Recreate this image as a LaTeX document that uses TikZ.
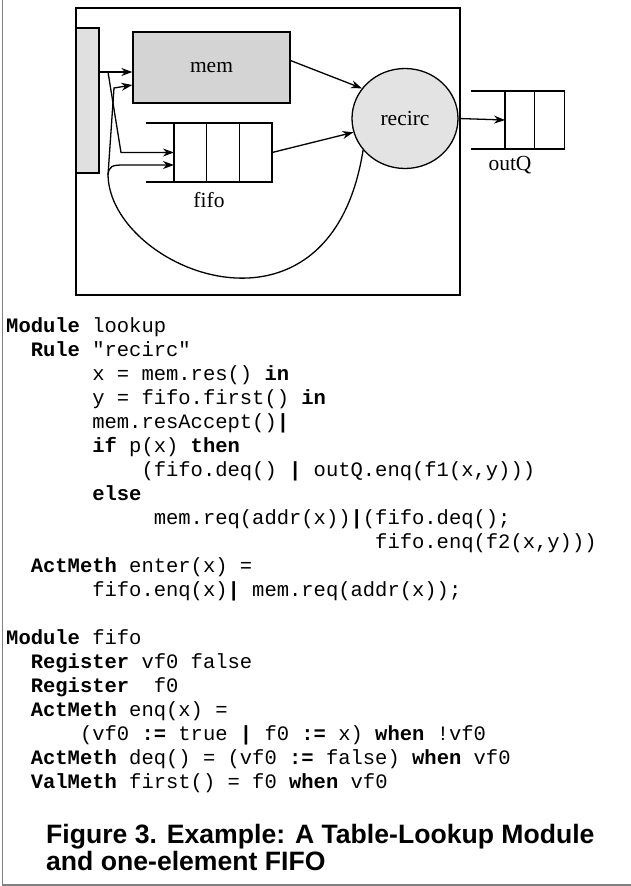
\documentclass[tikz,border=0pt]{standalone}
\usepackage{fontspec}
\setmainfont{Liberation Serif}
\newfontfamily\codefont{Liberation Mono}
\newfontfamily\capfont{Liberation Sans}
\usepackage{tikz}
\usetikzlibrary{shapes.geometric,positioning,arrows.meta}

\newcommand{\kw}[1]{\textbf{#1}}

\begin{document}
\begin{tikzpicture}[x=1pt, y=-1pt,
    arr/.style={-{Stealth[length=11pt,width=8pt]}, line width=1.3pt},
    cell/.style={draw, line width=1.3pt, inner sep=0, outer sep=0, minimum width=32.7pt, minimum height=59pt},
    qcell/.style={cell, minimum width=29.7pt, minimum height=58pt},
    lbl/.style={font=\fontsize{21.5}{24}\selectfont},
    codeline/.style={anchor=base west, inner sep=0, font=\codefont\fontsize{20.5}{24}\selectfont\frenchspacing},
    captext/.style={anchor=base west, inner sep=0, font=\capfont\bfseries\fontsize{26.6}{27}\selectfont}]
    \useasboundingbox (0,0) rectangle (631,886);

    % page border (left and bottom only)
    \draw[gray, line width=1.5pt] (2.5,0) -- (2.5,885) -- (631,885);

    % module box
    \node[draw, line width=2pt, inner sep=0, minimum width=384pt, minimum height=287pt] (box) at (268,151.5) {};
    \node[draw, line width=1.6pt, fill=black!12, inner sep=0, minimum width=23pt, minimum height=145pt] (port) at (87.5,100.5) {};
    \node[draw, line width=1.3pt, fill=black!17, inner sep=0, minimum width=157pt, minimum height=71pt, lbl] (mem) at (211.5,67.5) {mem};
    \node[ellipse, draw, line width=1.3pt, fill=black!11, inner sep=0, minimum width=106pt, minimum height=100pt, lbl] (recirc) at (405,118.5) {recirc};

    % fifo: three slots, open on the left
    \node[cell] (f1) at (190.3,152.5) {};
    \node[cell, right=0pt of f1] (f2) {};
    \node[cell, right=0pt of f2] (f3) {};
    \draw[line width=1.3pt] (f1.north west) -- ++(-28,0);
    \draw[line width=1.3pt] (f1.south west) -- ++(-28,0);
    \node[lbl] (fifolbl) at (209,200) {fifo};

    % outQ: two slots
    \node[qcell] (o1) at (519.9,120) {};
    \node[qcell, right=0pt of o1] (o2) {};
    \draw[line width=1.3pt] (o1.north west) -- ++(-34,0);
    \draw[line width=1.3pt] (o1.south west) -- ++(-34,0);
    \node[lbl] (outqlbl) at (510,165) {outQ};

    % enter(x): to mem and to fifo
    \coordinate (tap) at (108,72);
    \coordinate (drop) at (121,152.5);
    \draw[arr] (port.east |- tap) -- (mem.west |- tap);
    \draw[arr] (tap) -- (drop) -- (f1.west);

    % into and out of recirc
    \draw[arr] (mem.5) -- (recirc.145);
    \draw[arr] (f3.east) -- (recirc.195);
    \draw[arr] (recirc.east) -- (o1.west);

    % recirculation loop back to mem and fifo
    \coordinate (back) at (108,175);
    \coordinate (up) at (114,88);
    \coordinate (memin) at (0,85);
    \coordinate (bend) at (124,165);
    \draw[line width=1.3pt] (recirc.217) .. controls (330,360) and (110,270) .. (back);
    \draw[arr] (back) -- (up) -- (mem.west |- memin);
    \draw[arr] (back) .. controls (109,166) and (112,165) .. (bend) -- (f1.west |- bend);

    % code listing
    \foreach \col/\row/\code in {
        0/0/{\kw{Module} lookup},
        2/1/{\kw{Rule} "recirc"},
        7/2/{x = mem.res() \kw{in}},
        7/3/{y = fifo.first() \kw{in}},
        7/4/{mem.resAccept()\kw{|}},
        7/5/{\kw{if} p(x) \kw{then}},
        11/6/{(fifo.deq() \kw{|} outQ.enq(f1(x,y)))},
        7/7/{\kw{else}},
        12/8/{mem.req(addr(x))\kw{|}(fifo.deq();},
        30/9/{fifo.enq(f2(x,y)))},
        2/10/{\kw{ActMeth} enter(x) =},
        7/11/{fifo.enq(x)\kw{|} mem.req(addr(x));},
        0/13/{\kw{Module} fifo},
        2/14/{\kw{Register} vf0 false},
        2/15/{\kw{Register}\ \ f0},
        2/16/{\kw{ActMeth} enq(x) =},
        6/17/{(vf0 \kw{:=} true \kw{|} f0 \kw{:=} x) \kw{when} !vf0},
        2/18/{\kw{ActMeth} deq() = (vf0 \kw{:=} false) \kw{when} vf0},
        2/19/{\kw{ValMeth} first() = f0 \kw{when} vf0}}
      \node[codeline] (line\row) at ({6+12.3*\col},{332+24*\row}) {\code};

    % caption
    \node[captext] (cap) at (46,843) {Figure 3. Example: A Table-Lookup Module};
    \node[captext] (cap2) at (46,870) {and one-element FIFO};
\end{tikzpicture}
\end{document}
